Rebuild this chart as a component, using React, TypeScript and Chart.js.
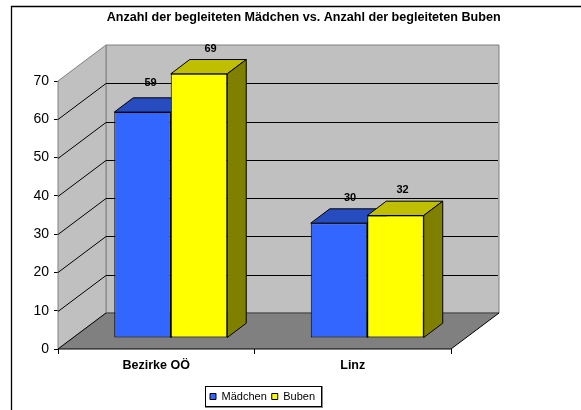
import React, { useEffect, useRef } from "react";
import { Chart, registerables } from "chart.js";

Chart.register(...registerables);

const titleText = "Anzahl der begleiteten Mädchen vs. Anzahl der begleiteten Buben";
const categories = ["Bezirke OÖ", "Linz"];
const maedchen = [59, 30];
const buben = [69, 32];
const FONT = "'Liberation Sans', Arial, sans-serif";

// depth of the floor and walls, and of the bars within it
const WALL_DX = 48;
const WALL_DY = -36;
const BAR_SHIFT_X = 14.5;
const BAR_SHIFT_Y = -11;
const BAR_DX = 19;
const BAR_DY = -14.3;
const labelShift = [
  [[8, -29], [11, -25.5]],
  [[11.5, -25], [7, -26]],
];
const faceColors = [
  { top: "#264cbf", side: "#1a3380" },
  { top: "#bfbf00", side: "#808000" },
];

function poly(ctx: CanvasRenderingContext2D, pts: number[][], fill: string | null, stroke: string | null, lw = 1) {
  ctx.beginPath();
  pts.forEach((p, i) => (i ? ctx.lineTo(p[0], p[1]) : ctx.moveTo(p[0], p[1])));
  if (fill) {
    ctx.closePath();
    ctx.fillStyle = fill;
    ctx.fill();
  }
  if (stroke) {
    ctx.strokeStyle = stroke;
    ctx.lineWidth = lw;
    ctx.stroke();
  }
}

const threeD = {
  id: "threeD",
  afterLayout(chart: any) {
    const t = chart.titleBlock;
    const tw = t.right - t.left;
    t.left = 303.7 - tw / 2;
    t.right = 303.7 + tw / 2;
    const th = t.bottom - t.top;
    t.top = 11.5;
    t.bottom = 11.5 + th;
    const l = chart.legend;
    const lh = l.bottom - l.top;
    l.left = 205;
    l.right = 205 + l.width;
    l.top = 386;
    l.bottom = 386 + lh;
  },
  beforeDraw(chart: any) {
    const ctx = chart.ctx;
    ctx.save();
    ctx.fillStyle = "#fff";
    ctx.fillRect(0, 0, chart.width, chart.height);
    poly(ctx, [[11.5, 410], [11.5, 6.5], [581, 6.5]], null, "#000", 1.3);
    // legend frame
    ctx.strokeStyle = "#888";
    ctx.lineWidth = 1;
    ctx.strokeRect(205.5, 386.5, 117, 21);
    ctx.strokeStyle = "#000";
    ctx.strokeRect(205.5, 386.5, 116, 20);
    ctx.restore();
  },
  beforeDatasetsDraw(chart: any) {
    const ctx = chart.ctx;
    const { left, right } = chart.chartArea;
    const y = chart.scales.y;
    const y0 = y.getPixelForValue(0);
    const yT = y.getPixelForValue(70);
    ctx.save();
    // walls and floor
    poly(ctx, [[left + WALL_DX, yT + WALL_DY], [right + WALL_DX, yT + WALL_DY], [right + WALL_DX, y0 + WALL_DY], [left + WALL_DX, y0 + WALL_DY]], "#c0c0c0", "#808080");
    poly(ctx, [[left, yT], [left + WALL_DX, yT + WALL_DY], [left + WALL_DX, y0 + WALL_DY], [left, y0]], "#c0c0c0", "#808080");
    poly(ctx, [[left, y0], [left + WALL_DX, y0 + WALL_DY], [right + WALL_DX, y0 + WALL_DY], [right, y0]], "#808080", null);
    // gridlines on both walls
    (y.ticks as any[]).forEach((t) => {
      if (t.value === 0 || t.value === 70) return;
      const py = Math.round(y.getPixelForValue(t.value)) + 0.5;
      poly(ctx, [[left, py], [left + WALL_DX, py + WALL_DY], [right + WALL_DX - 1, py + WALL_DY]], null, "#000");
    });
    poly(ctx, [[left + WALL_DX, y0 + WALL_DY], [right + WALL_DX, y0 + WALL_DY]], null, "#404040");
    poly(ctx, [[left + WALL_DX, y0 + WALL_DY], [left, y0], [right, y0], [right + WALL_DX, y0 + WALL_DY]], null, "#000");

    // bars, in dataset order so that the second stands before the first
    chart.data.datasets.forEach((_: any, di: number) => {
      const meta = chart.getDatasetMeta(di);
      ctx.save();
      ctx.translate(BAR_SHIFT_X, BAR_SHIFT_Y);
      meta.data.forEach((el: any) => {
        const x0 = el.x - el.width / 2;
        const x1 = el.x + el.width / 2;
        poly(ctx, [[x0, el.y], [x0 + BAR_DX, el.y + BAR_DY], [x1 + BAR_DX, el.y + BAR_DY], [x1, el.y]], faceColors[di].top, "#000");
        poly(ctx, [[x1, el.y], [x1 + BAR_DX, el.y + BAR_DY], [x1 + BAR_DX, el.base + BAR_DY], [x1, el.base]], faceColors[di].side, "#000");
      });
      meta.controller.draw();
      ctx.restore();
    });

    // value labels
    ctx.fillStyle = "#000";
    ctx.font = `bold 11px ${FONT}`;
    ctx.textAlign = "center";
    ctx.textBaseline = "middle";
    chart.data.datasets.forEach((ds: any, di: number) => {
      chart.getDatasetMeta(di).data.forEach((el: any, i: number) => {
        const s = labelShift[di][i];
        ctx.fillText(String(ds.data[i]), el.x + BAR_SHIFT_X + s[0], el.y + BAR_SHIFT_Y + s[1]);
      });
    });
    ctx.restore();
  },
  beforeDatasetDraw() {
    return false;
  },
};

export default function App() {
  const ref = useRef<HTMLCanvasElement>(null);
  useEffect(() => {
    const chart = new Chart(ref.current as HTMLCanvasElement, {
      type: "bar",
      data: {
        labels: categories,
        datasets: [
          { label: "Mädchen", data: maedchen, backgroundColor: "#3366ff", borderColor: "#000", borderWidth: 1, borderSkipped: false },
          { label: "Buben", data: buben, backgroundColor: "#ffff00", borderColor: "#000", borderWidth: 1, borderSkipped: false },
        ],
      },
      plugins: [threeD as any],
      options: {
        responsive: false,
        animation: false,
        layout: { padding: { top: 68.4, right: 130, left: 0, bottom: 0 } },
        datasets: { bar: { barPercentage: 1, categoryPercentage: 0.575 } },
        plugins: {
          tooltip: { enabled: false },
          title: {
            display: true,
            text: titleText,
            color: "#000",
            padding: 0,
            font: { family: FONT, size: 12.6, weight: "bold", lineHeight: 1 },
          },
          legend: {
            position: "bottom",
            align: "start",
            labels: {
              boxWidth: 6,
              boxHeight: 6,
              padding: 5,
              color: "#000",
              font: { family: FONT, size: 11 },
            },
          },
        },
        scales: {
          x: {
            afterFit(scale: any) {
              scale.height = 61 - scale.chart.legend.height;
            },
            grid: { drawOnChartArea: false, drawTicks: true, tickLength: 5, color: "#000", offset: true },
            border: { display: false },
            ticks: { color: "#000", padding: 4, font: { family: FONT, size: 12.5, weight: "bold" }, maxRotation: 0 },
          },
          y: {
            min: 0,
            max: 70,
            afterFit(scale: any) {
              scale.width = 58;
            },
            grid: { drawOnChartArea: false, drawTicks: true, tickLength: 4, color: "#000" },
            border: { display: false },
            ticks: { stepSize: 10, color: "#000", padding: 5, font: { family: FONT, size: 14 } },
          },
        },
      } as any,
    });
    return () => chart.destroy();
  }, []);
  return (
    <canvas
      ref={ref}
      width={581}
      height={410}
      style={{ position: "absolute", left: 0, top: 0, display: "block" }}
    />
  );
}
